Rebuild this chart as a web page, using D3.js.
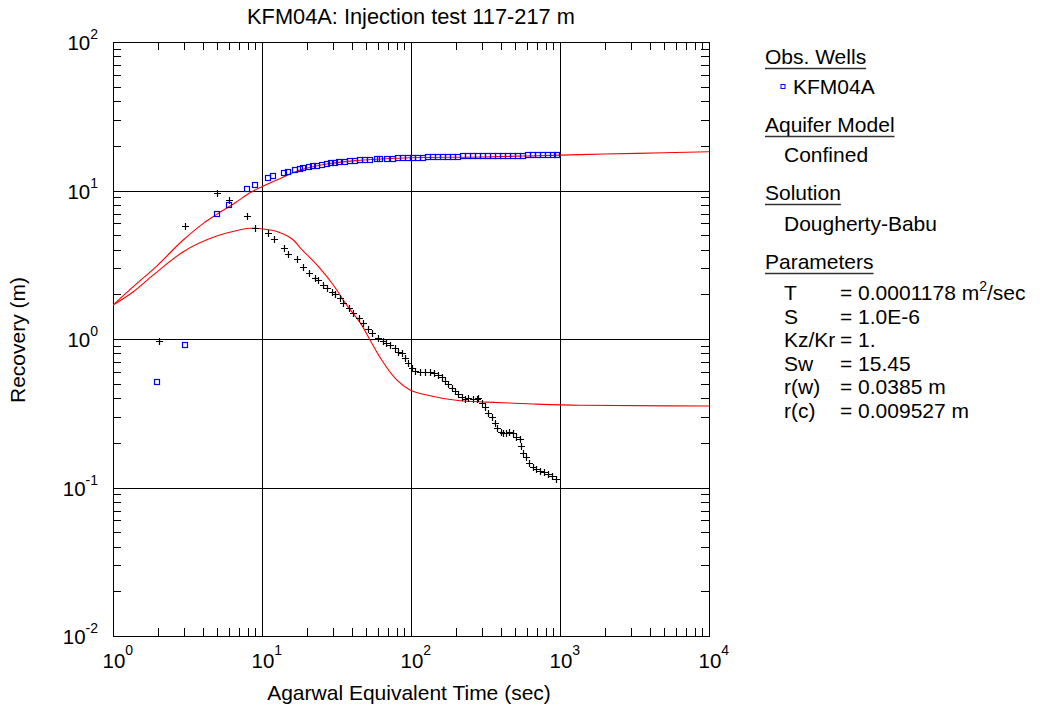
<!DOCTYPE html>
<html>
<head>
<meta charset="utf-8">
<script src="https://cdn.jsdelivr.net/npm/d3@7"></script>
<style>
  html, body { margin: 0; padding: 0; background: #fff; }
  svg { display: block; font-family: "Liberation Sans", Arial, sans-serif; }
</style>
</head>
<body>
<svg id="chart" width="1040" height="711"></svg>
<script>
// Observed recovery (blue squares)
const recTime = [1.97, 3.04, 4.97, 6.03, 7.93, 8.93, 10.92, 11.91, 13.98, 14.88,
  16.65, 17.99, 18.93, 20.77, 22.10, 23.50, 25.16, 27.18, 28.91, 30.90, 33.03, 36.06,
  38.96, 42.10, 45.47, 49.13, 53.06, 58.87, 61.94, 68.70, 76.06, 82.16, 88.81, 95.92,
  103.1, 111.4, 120.4, 130.1, 140.5, 151.8, 164.0, 177.2, 191.4, 206.8, 223.4, 241.3,
  260.7, 281.7, 304.2, 328.7, 355.0, 383.6, 414.4, 447.7, 483.7, 522.5, 564.6, 609.9,
  658.9, 711.8, 769.0, 830.8, 897.4, 954.8];
const recValue = [0.513, 0.907, 6.98, 7.95, 10.19, 10.94, 12.08, 12.46, 13.06, 13.26,
  13.68, 13.96, 14.11, 14.33, 14.55, 14.69, 14.85, 15.08, 15.25, 15.32, 15.49, 15.63,
  15.80, 15.88, 15.97, 16.05, 16.12, 16.22, 16.30, 16.37, 16.37, 16.47, 16.55, 16.55,
  16.63, 16.63, 16.68, 16.73, 16.73, 16.78, 16.85, 16.88, 16.88, 16.92, 16.95, 16.95,
  16.99, 17.02, 17.05, 17.07, 17.07, 17.10, 17.12, 17.15, 17.15, 17.18, 17.20, 17.22,
  17.22, 17.25, 17.26, 17.28, 17.30, 17.34];

// Observed derivative (black crosses)
const derTime = [2.03, 3.04, 5.01, 6.03, 7.93, 8.93, 11.02, 11.98, 13.98, 15.02,
  17.09, 18.93, 20.77, 22.69, 23.65, 25.55, 27.44, 29.37, 30.90, 33.40, 35.10, 38.50,
  41.00, 44.80, 47.90, 51.20, 55.00, 60.30, 65.20, 68.00, 72.30, 78.10, 82.20, 86.60,
  91.10, 95.90, 101.1, 106.4, 114.9, 124.2, 134.1, 142.7, 152.5, 160.7, 169.1, 178.0,
  187.6, 197.4, 207.7, 218.9, 230.4, 242.4, 259.5, 276.1, 282.9, 298.2, 313.8, 330.2,
  348.0, 366.3, 379.5, 399.9, 416.4, 434.1, 456.8, 481.5, 506.7, 538.9, 544.8, 567.2,
  591.3, 622.3, 655.8, 690.1, 734.4, 780.9, 834.7, 879.8, 940.1];
const derValue = [0.965, 5.77, 9.58, 8.63, 6.74, 5.57, 5.20, 4.74, 4.10, 3.72,
  3.44, 3.07, 2.77, 2.59, 2.48, 2.31, 2.19, 2.06, 2.01, 1.88, 1.76, 1.62,
  1.50, 1.38, 1.28, 1.17, 1.09, 1.01, 0.97, 0.944, 0.911, 0.866, 0.821, 0.801,
  0.741, 0.686, 0.635, 0.612, 0.602, 0.597, 0.597, 0.588, 0.572, 0.552, 0.522, 0.498,
  0.470, 0.449, 0.426, 0.405, 0.396, 0.401, 0.396, 0.393, 0.399, 0.372, 0.350, 0.319,
  0.297, 0.271, 0.250, 0.238, 0.232, 0.234, 0.238, 0.232, 0.220, 0.211, 0.190, 0.1715,
  0.160, 0.1455, 0.1368, 0.1326, 0.1298, 0.1272, 0.1233, 0.1195, 0.1147];

// Dougherty-Babu type curves (red)
const modelTime = [1, 1.368, 1.965, 2.96, 4.04, 4.97, 6.69, 8.31, 10.0, 12.56, 17.99,
  28.6, 45.5, 100, 290, 1000, 2000, 5000, 10000];
const modelRecovery = [1.69, 2.25, 3.10, 4.64, 6.01, 6.91, 8.33, 9.66, 10.61, 11.77, 13.74,
  15.20, 15.97, 16.63, 16.81, 17.30, 17.60, 17.95, 18.24];
const modelDerTime = [1, 1.368, 1.865, 2.96, 4.97, 6.69, 8.31, 10.2, 13.21, 16.22, 18.0,
  24.51, 30.10, 37.03, 46.69, 53.06, 63.6, 80.2, 98.5, 127.5, 213.3, 322, 662, 1362, 10000];
const modelDerivative = [1.69, 2.08, 2.70, 3.87, 4.94, 5.36, 5.57, 5.50, 5.20, 4.64, 4.13,
  2.99, 2.31, 1.69, 1.24, 0.985, 0.722, 0.530, 0.453, 0.420, 0.384, 0.376, 0.365, 0.358, 0.354];

const xDecades = [1, 10, 100, 1000, 10000];
const yDecades = [0.01, 0.1, 1, 10, 100];

const legendParams = [
  ["T", "= 0.0001178 m", "2", "/sec"],
  ["S", "= 1.0E-6"],
  ["Kz/Kr", "= 1."],
  ["Sw", "= 15.45"],
  ["r(w)", "= 0.0385 m"],
  ["r(c)", "= 0.009527 m"]
];

const svg = d3.select("#chart");
const L = 113, R = 709, T = 42, B = 636;
const FS = 21;

const x = d3.scaleLog().domain([1, 1e4]).range([L, R]);
const y = d3.scaleLog().domain([0.01, 100]).range([B, T]);

const minorX = x.ticks().filter(v => !xDecades.includes(v));
const minorY = y.ticks().filter(v => !yDecades.includes(v));

function styleAxis(g) {
  g.select(".domain").remove();
  g.selectAll(".tick line").attr("stroke", "#000").attr("shape-rendering", "crispEdges");
  g.selectAll("text").remove();
}

// inward minor ticks on all four sides
svg.append("g").attr("transform", `translate(0,${B})`)
  .call(d3.axisBottom(x).tickValues(minorX).tickSize(-8).tickFormat("")).call(styleAxis);
svg.append("g").attr("transform", `translate(0,${T})`)
  .call(d3.axisTop(x).tickValues(minorX).tickSize(-8).tickFormat("")).call(styleAxis);
svg.append("g").attr("transform", `translate(${L},0)`)
  .call(d3.axisLeft(y).tickValues(minorY).tickSize(-8).tickFormat("")).call(styleAxis);
svg.append("g").attr("transform", `translate(${R},0)`)
  .call(d3.axisRight(y).tickValues(minorY).tickSize(-8).tickFormat("")).call(styleAxis);

// decade grid lines
svg.append("g").attr("transform", `translate(0,${B})`)
  .call(d3.axisBottom(x).tickValues([10, 100, 1000]).tickSize(-(B - T)).tickFormat("")).call(styleAxis);
svg.append("g").attr("transform", `translate(${L},0)`)
  .call(d3.axisLeft(y).tickValues([0.1, 1, 10]).tickSize(-(R - L)).tickFormat("")).call(styleAxis);

// frame
svg.append("rect").attr("x", L + 0.5).attr("y", T + 0.5)
  .attr("width", R - L).attr("height", B - T)
  .attr("fill", "none").attr("stroke", "#000").attr("stroke-width", 1)
  .attr("shape-rendering", "crispEdges");

// tick labels
const expo = v => Math.round(Math.log10(v));
svg.append("g").selectAll("text").data(xDecades).join("text")
  .attr("x", d => x(d) - 10.5).attr("y", 668)
  .attr("font-size", 20.5).attr("fill", "#000")
  .call(t => {
    t.append("tspan").text("10");
    t.append("tspan").attr("dy", -13).attr("font-size", 14).text(d => expo(d));
  });
svg.append("g").selectAll("text").data(yDecades).join("text")
  .attr("x", 98).attr("y", d => y(d) + 8)
  .attr("text-anchor", "end")
  .attr("font-size", 20.5).attr("fill", "#000")
  .call(t => {
    t.append("tspan").text("10");
    t.append("tspan").attr("dy", -11).attr("font-size", 14).text(d => expo(d));
  });

// titles
svg.append("text").attr("x", 411).attr("y", 24).attr("text-anchor", "middle")
  .attr("font-size", 21.8).text("KFM04A: Injection test 117-217 m");
svg.append("text").attr("x", 409).attr("y", 700).attr("text-anchor", "middle")
  .attr("font-size", FS).text("Agarwal Equivalent Time (sec)");
svg.append("text").attr("transform", "translate(25,340) rotate(-90)")
  .attr("text-anchor", "middle").attr("font-size", FS).text("Recovery (m)");

// model curves
const clipId = "plotClip";
svg.append("clipPath").attr("id", clipId).append("rect")
  .attr("x", L).attr("y", T).attr("width", R - L).attr("height", B - T);
const line = d3.line().x(d => x(d[0])).y(d => y(d[1])).curve(d3.curveMonotoneX);
const plot = svg.append("g").attr("clip-path", `url(#${clipId})`);
plot.append("path").datum(d3.zip(modelTime, modelRecovery))
  .attr("d", line).attr("fill", "none").attr("stroke", "#ff0000").attr("stroke-width", 1.1);
plot.append("path").datum(d3.zip(modelDerTime, modelDerivative))
  .attr("d", line).attr("fill", "none").attr("stroke", "#ff0000").attr("stroke-width", 1.1);

// derivative crosses
plot.append("g").selectAll("path").data(d3.zip(derTime, derValue)).join("path")
  .attr("d", d => {
    const cx = Math.round(x(d[0])) + 0.5, cy = Math.round(y(d[1])) + 0.5;
    return `M${cx - 3.5},${cy}H${cx + 3.5}M${cx},${cy - 3.5}V${cy + 3.5}`;
  })
  .attr("stroke", "#000").attr("stroke-width", 1.2).attr("fill", "none");

// recovery squares
plot.append("g").selectAll("rect").data(d3.zip(recTime, recValue)).join("rect")
  .attr("x", d => Math.round(x(d[0])) - 2.5).attr("y", d => Math.round(y(d[1])) - 2.5)
  .attr("width", 5).attr("height", 5)
  .attr("fill", "none").attr("stroke", "#0000ff").attr("stroke-width", 1.2);

// legend
const lg = svg.append("g").attr("font-size", FS).attr("fill", "#000");
function heading(text, yy) {
  const t = lg.append("text").attr("x", 765).attr("y", yy).text(text);
  const w = t.node().getComputedTextLength();
  lg.append("line").attr("x1", 765).attr("x2", 765 + w)
    .attr("y1", yy + 4.5).attr("y2", yy + 4.5)
    .attr("stroke", "#333").attr("stroke-width", 1.5);
}
heading("Obs. Wells", 64);
lg.append("rect").attr("x", 781).attr("y", 84.5).attr("width", 4).attr("height", 4)
  .attr("fill", "none").attr("stroke", "#0000ff").attr("stroke-width", 1);
lg.append("text").attr("x", 793).attr("y", 94).text("KFM04A");
heading("Aquifer Model", 132);
lg.append("text").attr("x", 784).attr("y", 162).text("Confined");
heading("Solution", 200);
lg.append("text").attr("x", 784).attr("y", 231).text("Dougherty-Babu");
heading("Parameters", 269);
legendParams.forEach((p, i) => {
  const yy = 300 + i * 23.5;
  lg.append("text").attr("x", 784).attr("y", yy).text(p[0]);
  const t = lg.append("text").attr("x", 840).attr("y", yy);
  t.append("tspan").text(p[1]);
  if (p[2]) {
    t.append("tspan").attr("dy", -9).attr("font-size", 14).text(p[2]);
    t.append("tspan").attr("dy", 9).text(p[3]);
  }
});
</script>
</body>
</html>
